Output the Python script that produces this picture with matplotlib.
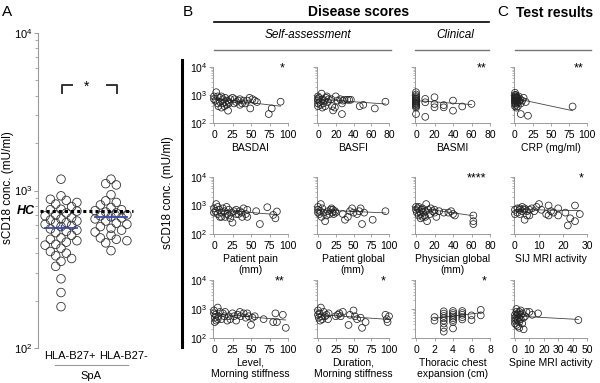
import numpy as np
import matplotlib
matplotlib.use('Agg')
import matplotlib.pyplot as plt
import matplotlib.transforms as mtransforms
from matplotlib.lines import Line2D
from matplotlib.ticker import NullFormatter, FixedLocator

plt.rcParams['font.family'] = ['Liberation Sans', 'DejaVu Sans']
plt.rcParams['mathtext.fontset'] = 'custom'
plt.rcParams['mathtext.rm'] = 'Liberation Sans'
plt.rcParams['mathtext.it'] = 'Liberation Sans:italic'
plt.rcParams['mathtext.bf'] = 'Liberation Sans:bold'

# ---- panel A: sCD18 (mU/ml) by HLA-B27 status ----
groups = ['HLA-B27+', 'HLA-B27-']
b27_pos = [1180, 925, 880, 865, 840, 820, 790, 760, 755, 740, 720, 700, 690, 670,
           660, 650, 640, 625, 620, 610, 600, 590, 570, 560, 550, 540, 520, 500,
           490, 480, 470, 455, 450, 430, 410, 400, 385, 370, 355, 330, 275, 225, 183]
b27_neg = [1180, 1105, 1085, 940, 860, 840, 810, 780, 755, 745, 730, 720, 700, 690,
           680, 670, 660, 640, 620, 610, 590, 575, 560, 545, 520, 500, 490, 480, 465, 415]
group_means = [582, 678]
group_sems = [24, 28]
hc_level = 736

# ---- panels B/C: x score vs log10 sCD18 ----
basdai_x = [0, 0, 2, 3, 5, 5, 6, 8, 8, 10, 10, 12, 12, 14, 15, 15, 17, 18, 19, 20, 20,
            22, 25, 27, 28, 30, 33, 35, 35, 38, 40, 42, 45, 48, 49, 52, 55, 58, 74, 78, 90]
basdai_lg = [2.95, 2.85, 2.8, 3.1, 2.95, 2.7, 2.6, 2.9, 2.75, 2.95, 2.55, 2.85, 2.7, 2.6,
             2.9, 2.75, 2.65, 2.8, 2.44, 2.75, 2.7, 2.85, 2.9, 2.7, 2.85, 2.75, 2.8, 2.85,
             2.65, 2.7, 2.8, 2.7, 2.8, 2.9, 2.52, 2.85, 2.8, 2.75, 2.32, 2.52, 2.76]
basdai_fit = [0, 90, 2.88, 2.6]

basfi_x = [0, 0, 0, 0, 0, 1, 2, 3, 4, 5, 5, 6, 7, 8, 9, 10, 11, 12, 15, 16, 17, 19,
           20, 22, 25, 27, 27, 28, 30, 33, 35, 37, 47, 51, 64, 76]
basfi_lg = [2.95, 2.85, 2.8, 2.7, 2.6, 2.9, 2.75, 2.65, 3.05, 2.85, 2.55, 2.7, 2.8, 2.6,
            2.9, 2.95, 2.75, 2.85, 2.85, 2.6, 2.45, 2.55, 2.95, 2.8, 2.85, 2.7, 2.32, 2.8,
            2.83, 2.83, 2.83, 2.83, 2.6, 2.65, 2.52, 2.76]
basfi_fit = [0, 76, 2.85, 2.68]

basmi_x = [0, 0, 0, 0, 0, 0, 0, 0, 0, 0, 0, 0, 0, 0, 0, 0,
           10, 10, 10, 20, 20, 20, 30, 30, 40, 40, 50, 60]
basmi_lg = [3.1, 3.02, 2.96, 2.92, 2.88, 2.85, 2.82, 2.79, 2.76, 2.73, 2.7, 2.67, 2.63,
            2.6, 2.55, 2.32, 2.86, 2.74, 2.22, 2.92, 2.68, 2.56, 2.64, 2.56, 2.8, 2.44,
            2.59, 2.68]
basmi_fit = [0, 60, 2.8, 2.66]

crp_x = [0, 0, 0, 0, 0, 0, 0, 0, 0, 1, 1, 1, 1, 2, 2, 2, 2, 3, 3, 3, 4, 4, 5, 5, 6, 7,
         8, 8, 10, 12, 15, 18, 80]
crp_lg = [3.08, 3.0, 2.95, 2.9, 2.85, 2.8, 2.75, 2.7, 2.6, 3.0, 2.9, 2.8, 2.65, 2.95,
          2.85, 2.75, 2.55, 2.9, 2.8, 2.7, 2.85, 2.6, 2.95, 2.75, 2.8, 2.85, 2.7, 2.32,
          2.8, 2.9, 2.75, 2.26, 2.59]
crp_fit = [0, 80, 2.88, 2.44]

pain_x = [0, 0, 2, 3, 5, 5, 7, 8, 10, 10, 12, 14, 15, 17, 18, 20, 20, 22, 24, 25, 27,
          30, 30, 33, 35, 37, 38, 40, 43, 45, 45, 57, 62, 72, 80, 83, 85]
pain_lg = [2.9, 2.75, 2.8, 3.05, 2.7, 2.95, 2.85, 2.6, 2.75, 2.6, 2.9, 2.8, 2.6, 2.95,
           2.7, 2.85, 2.65, 2.55, 2.75, 2.4, 2.8, 2.85, 2.7, 2.7, 2.8, 2.75, 2.6, 2.9,
           2.7, 2.85, 2.6, 2.8, 2.35, 2.94, 2.67, 2.55, 2.79]
pain_fit = [0, 85, 2.86, 2.68]

ptglobal_x = [0, 0, 0, 2, 3, 4, 5, 6, 8, 10, 12, 14, 16, 18, 19, 20, 21, 22, 24, 25,
              35, 38, 42, 45, 48, 50, 55, 58, 60, 62, 65, 77, 95]
ptglobal_lg = [2.95, 2.85, 2.75, 2.7, 2.8, 3.05, 2.6, 2.9, 2.75, 2.45, 2.65, 2.8, 2.7,
               2.85, 2.9, 2.75, 2.85, 2.7, 2.8, 2.75, 2.7, 2.5, 2.6, 2.8, 2.9, 2.75, 2.7,
               2.8, 2.9, 2.35, 2.75, 2.5, 2.8]
ptglobal_fit = [0, 95, 2.85, 2.74]

physician_x = [0, 0, 1, 2, 3, 3, 4, 5, 5, 6, 7, 7, 8, 9, 10, 10, 11, 12, 13, 15, 16, 18,
               20, 20, 22, 25, 30, 35, 38, 40, 42, 62, 62, 62]
physician_lg = [2.95, 2.85, 2.75, 2.9, 2.95, 2.65, 2.8, 2.7, 2.55, 2.85, 2.9, 2.6, 2.75,
                2.65, 2.6, 2.8, 3.05, 2.45, 2.85, 2.7, 2.9, 2.8, 2.75, 2.85, 2.6, 2.8,
                2.75, 2.75, 2.8, 2.7, 2.65, 2.65, 2.45, 2.35]
physician_fit = [0, 62, 2.93, 2.64]

sij_x = [0, 0, 1, 1, 2, 2, 2, 3, 3, 4, 4, 4, 5, 5, 6, 6, 7, 8, 9, 10, 11, 13, 14, 14,
         15, 16, 18, 18, 21, 22, 23, 25, 25, 27]
sij_lg = [2.85, 2.7, 2.9, 2.75, 2.85, 2.9, 2.7, 2.8, 2.95, 2.85, 2.9, 2.5, 2.8, 2.65,
          2.85, 2.65, 2.9, 2.8, 2.95, 3.05, 2.85, 2.7, 3.0, 2.65, 2.8, 2.75, 2.9, 2.65,
          2.75, 2.3, 2.55, 3.0, 2.45, 2.7]
sij_fit = [0, 27, 2.86, 2.82]

level_x = [0, 0, 1, 1, 2, 3, 5, 5, 6, 8, 10, 12, 14, 15, 18, 20, 22, 25, 27, 30, 32, 35,
           36, 40, 43, 45, 47, 50, 52, 55, 67, 80, 83, 85, 93, 97]
level_lg = [2.95, 2.85, 2.7, 2.55, 2.8, 2.6, 3.05, 2.65, 2.75, 2.9, 2.65, 2.85, 2.75, 2.9,
            2.6, 2.75, 2.65, 2.85, 2.75, 2.6, 2.8, 2.9, 2.75, 2.85, 2.7, 2.85, 2.75, 2.45,
            2.7, 2.75, 2.65, 2.55, 2.85, 2.55, 2.8, 2.35]
level_fit = [0, 97, 2.84, 2.62]

duration_x = [0, 0, 1, 2, 3, 4, 5, 6, 8, 10, 12, 14, 15, 25, 28, 30, 32, 35, 43, 45, 50,
              52, 55, 60, 62, 67, 95, 97, 100, 98]
duration_lg = [2.95, 2.8, 2.7, 2.85, 2.6, 3.05, 2.75, 2.65, 2.9, 2.75, 2.8, 2.65, 2.85,
               2.75, 2.8, 2.85, 2.75, 2.9, 2.45, 2.8, 2.95, 2.75, 2.65, 2.7, 2.35, 2.55,
               2.8, 2.65, 2.75, 2.55]
duration_fit = [0, 100, 2.81, 2.64]

thoracic_x = [2, 2, 3, 3, 3, 3, 3, 3, 3, 3, 4, 4, 4, 4, 4, 4, 4, 4, 5, 5, 5, 5, 5, 6, 6, 7, 7]
thoracic_lg = [2.72, 2.6, 2.92, 2.84, 2.76, 2.68, 2.6, 2.5, 2.35, 2.22, 2.93, 2.86, 2.8,
               2.74, 2.68, 2.62, 2.55, 2.33, 2.93, 2.86, 2.8, 2.72, 2.64, 2.78, 2.62,
               2.97, 2.78]
thoracic_fit = [2, 7, 2.68, 2.87]

spine_x = [0, 0, 0, 0, 1, 1, 1, 1, 1, 2, 2, 2, 2, 3, 3, 3, 3, 4, 4, 4, 5, 5, 6, 6, 7, 8,
           10, 12, 16, 44]
spine_lg = [2.8, 2.7, 2.6, 2.5, 3.0, 2.9, 2.75, 2.65, 2.45, 2.85, 2.8, 2.6, 2.4, 2.9,
            2.7, 2.55, 2.35, 2.95, 2.8, 2.65, 2.85, 2.5, 2.3, 2.7, 2.75, 2.9, 2.9, 2.8,
            2.85, 2.62]
spine_fit = [0, 44, 2.76, 2.64]

W, H = 600, 383
GREY = '#9a9a9a'
fig = plt.figure(figsize=(W / 100, H / 100), dpi=100)


def rect(l, t, r, b):
    return [l / W, 1 - b / H, (r - l) / W, (b - t) / H]


def hline(x0, x1, y, **kw):
    fig.add_artist(Line2D([x0 / W, x1 / W], [1 - y / H, 1 - y / H], **kw))


def ftext(x, y, s, **kw):
    fig.text(x / W, 1 - y / H, s, **kw)


def swarm(ypix, step, mind, maxslot=3):
    # simple beeswarm: put each point in the first slot that keeps it clear of the others
    placed = []
    offs = np.zeros(len(ypix))
    for i in np.argsort(ypix)[::-1]:
        best, bestd = 0, -1
        for k in [0, -1, 1, -2, 2, -3, 3][:2 * maxslot + 1]:
            d = min([np.hypot(k * step - ox, ypix[i] - oy) for ox, oy in placed] or [99])
            if d >= mind:
                best = k
                break
            if d > bestd:
                best, bestd = k, d
        offs[i] = best * step
        placed.append((best * step, ypix[i]))
    return offs


# ================= panel A =================
axA = fig.add_axes(rect(38, 33, 135, 348))
axA.set_yscale('log')
axA.set_ylim(100, 10000)
axA.set_xlim(0.54, 2.48)
for s in ['top', 'right', 'bottom']:
    axA.spines[s].set_visible(False)
axA.spines['left'].set_color(GREY)
axA.spines['left'].set_linewidth(0.8)
axA.set_xticks([])
axA.tick_params(axis='y', which='major', length=3, width=0.7, color=GREY, labelsize=8, pad=1)
axA.tick_params(axis='y', which='minor', length=2, width=0.6, color=GREY)

ppu = 97 / (2.48 - 0.54)
ppd = 315 / 2
for i, vals in enumerate([b27_pos, b27_neg]):
    offs = swarm(np.log10(vals) * ppd, 5.3, 6.5) / ppu
    axA.scatter(i + 1 + offs, vals, s=38, facecolors='none', edgecolors='#333333',
                linewidths=0.6, zorder=3)
    m, se = group_means[i], group_sems[i]
    axA.plot([i + 1 - 0.32, i + 1 + 0.32], [m, m], color='#3a4aa8', lw=1.3, zorder=4)
    axA.plot([i + 1, i + 1], [m - se, m + se], color='#3a4aa8', lw=1.0, zorder=4)

axA.plot([0.58, 2.44], [hc_level, hc_level], color='black', lw=2.2, ls=(0, (1, 1)), zorder=5)
axA.text(-0.03, hc_level, 'HC', transform=mtransforms.blended_transform_factory(axA.transAxes, axA.transData),
         ha='right', va='center', fontsize=9, fontweight='bold', fontstyle='italic')
axA.plot([1.02, 1.02, 1.22], [4170, 4700, 4700], color='#333333', lw=1.4)
axA.plot([1.92, 2.12, 2.12], [4700, 4700, 4170], color='#333333', lw=1.4)
axA.text(1.52, 4550, '*', ha='center', va='center', fontsize=10)
blend = mtransforms.blended_transform_factory(axA.transData, axA.transAxes)
for i, g in enumerate(groups):
    axA.text(i + 1.18 + 0.06 * i, -0.025, g, transform=blend, ha='center', va='center', fontsize=8)
hline(55, 128, 365, color=GREY, lw=0.8)
ftext(91, 376, 'SpA', ha='center', va='center', fontsize=8)
ftext(8, 188, 'sCD18 conc. (mU/ml)', rotation=90, ha='center', va='center', fontsize=8.5)

# ================= panels B and C =================
panels = [
    (basdai_x, basdai_lg, basdai_fit, 'BASDAI', [0, 25, 50, 75, 100], '*'),
    (basfi_x, basfi_lg, basfi_fit, 'BASFI', [0, 20, 40, 60, 80], ''),
    (basmi_x, basmi_lg, basmi_fit, 'BASMI', [0, 20, 40, 60, 80], '**'),
    (crp_x, crp_lg, crp_fit, 'CRP (mg/ml)', [0, 25, 50, 75, 100], '**'),
    (pain_x, pain_lg, pain_fit, 'Patient pain\n(mm)', [0, 25, 50, 75, 100], ''),
    (ptglobal_x, ptglobal_lg, ptglobal_fit, 'Patient global\n(mm)', [0, 25, 50, 75, 100], ''),
    (physician_x, physician_lg, physician_fit, 'Physician global\n(mm)', [0, 20, 40, 60, 80], '****'),
    (sij_x, sij_lg, sij_fit, 'SIJ MRI activity', [0, 10, 20, 30], '*'),
    (level_x, level_lg, level_fit, 'Level,\nMorning stiffness', [0, 25, 50, 75, 100], '**'),
    (duration_x, duration_lg, duration_fit, 'Duration,\nMorning stiffness', [0, 25, 50, 75, 100], '*'),
    (thoracic_x, thoracic_lg, thoracic_fit, 'Thoracic chest\nexpansion (cm)', [0, 2, 4, 6, 8], '*'),
    (spine_x, spine_lg, spine_fit, 'Spine MRI activity', [0, 10, 20, 30, 40, 50], ''),
]
col_px = [(214, 288), (318, 389), (416, 490), (515, 587)]
row_px = [(67, 123), (177, 234), (280, 338)]

for idx, (xs, lg, fit, label, ticks, stars) in enumerate(panels):
    r, c = divmod(idx, 4)
    px0, px1 = col_px[c]
    top, bot = row_px[r]
    xmax = ticks[-1]
    ax = fig.add_axes(rect(px0 - 0.015 * (px1 - px0), top, px1, bot))
    ax.set_yscale('log')
    ax.set_ylim(100, 10000)
    ax.set_xlim(-0.015 * xmax, xmax)
    for s in ['top', 'right']:
        ax.spines[s].set_visible(False)
    for s in ['left', 'bottom']:
        ax.spines[s].set_color(GREY)
        ax.spines[s].set_linewidth(0.7)
    ax.xaxis.set_major_locator(FixedLocator(ticks))
    ax.tick_params(axis='x', length=2, width=0.6, color=GREY, labelsize=7.5, pad=3)
    ax.tick_params(axis='y', which='major', length=3, width=0.6, color=GREY, labelsize=7.5, pad=1)
    ax.tick_params(axis='y', which='minor', length=1.5, width=0.5, color=GREY)
    if c != 0:
        ax.yaxis.set_major_formatter(NullFormatter())
    ax.yaxis.set_minor_formatter(NullFormatter())
    ax.set_xlabel(label, fontsize=7.5, labelpad=2, linespacing=1.1)
    ax.scatter(xs, 10 ** np.array(lg), s=24, facecolors='none', edgecolors='#222222',
               linewidths=0.55, clip_on=False, zorder=3)
    ax.plot(fit[:2], 10 ** np.array(fit[2:]), color='#444444', lw=0.6, zorder=2)
    if stars:
        ax.text(0.95, 1.08, stars, transform=ax.transAxes, ha='right', va='top', fontsize=9)

# headers
ftext(2, 12, 'A', ha='left', va='center', fontsize=11)
ftext(188, 12, 'B', ha='center', va='center', fontsize=11)
ftext(503, 12, 'C', ha='center', va='center', fontsize=11)
ftext(359, 12, 'Disease scores', ha='center', va='center', fontsize=10, fontweight='bold')
ftext(516, 13, 'Test results', ha='left', va='center', fontsize=10, fontweight='bold')
hline(214, 489, 22, color='black', lw=1.2)
ftext(308, 35, 'Self-assessment', ha='center', va='center', fontsize=8.5, fontstyle='italic')
ftext(455, 35, 'Clinical', ha='center', va='center', fontsize=8.5, fontstyle='italic')
hline(214, 391, 50, color='#777777', lw=1.0)
hline(415, 489, 50, color='#777777', lw=1.0)
hline(515, 591, 50, color='#777777', lw=1.0)
fig.add_artist(Line2D([182 / W, 182 / W], [1 - 60 / H, 1 - 347 / H], color='black', lw=2.2))
ftext(168, 193, 'sCD18 conc. (mU/ml)', rotation=90, ha='center', va='center', fontsize=8.5)

fig.savefig('out.png', dpi=100)
